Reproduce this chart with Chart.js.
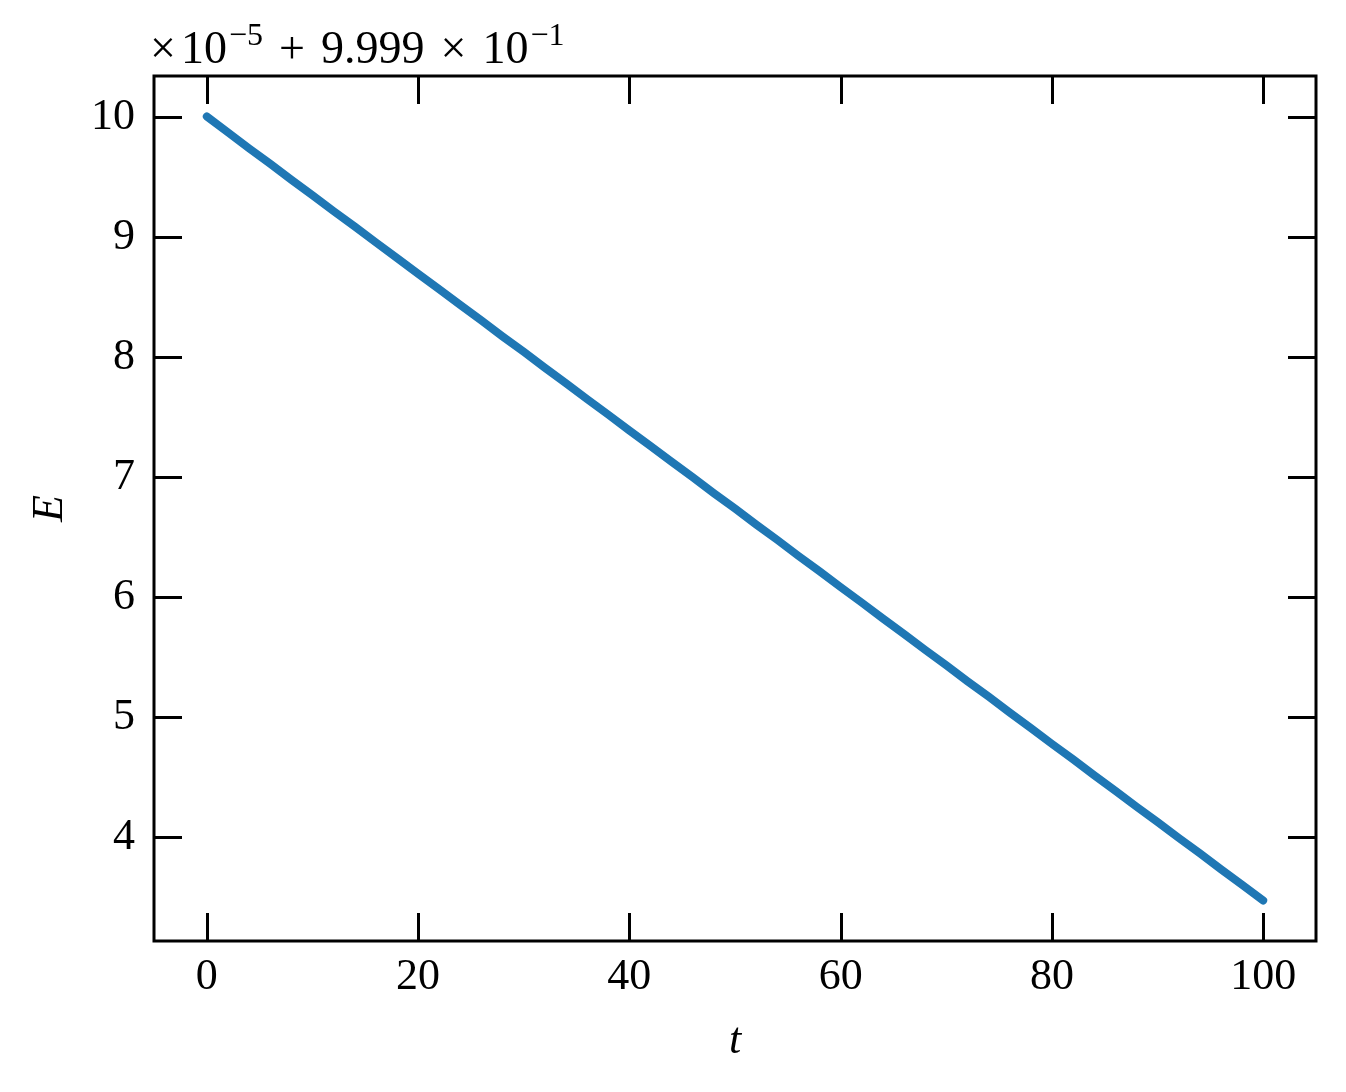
<!DOCTYPE html>
<html>
<head>
<meta charset="utf-8">
<script src="https://cdn.jsdelivr.net/npm/chart.js@4.4.1/dist/chart.umd.min.js"></script>
<style>
  html, body { margin: 0; padding: 0; background: #fff; }
  #wrap { position: relative; width: 1346px; height: 1092px; }
  #offset { position: absolute; left: 150px; top: 25px; font-family: "Liberation Serif", serif; font-size: 46px; color: #000; white-space: nowrap; line-height: 1; }
  #offset sup { font-size: 32px; vertical-align: 0; position: relative; top: -18px; margin-left: 2px; }
  #offset .op { margin: 0 16px; }
  #offset .lead { margin-right: 5px; }
</style>
</head>
<body>
<div id="wrap">
  <canvas id="c" width="1346" height="1092"></canvas>
  <div id="offset"><span class="lead">×</span>10<sup>−5</sup><span class="op">+</span>9.999<span class="op">×</span>10<sup>−1</sup></div>
</div>
<script>
// Data (E shown as (E - 0.9999) / 1e-5)
const tValues = [0, 2, 4, 6, 8, 10, 12, 14, 16, 18, 20, 22, 24, 26, 28, 30, 32, 34, 36, 38, 40,
  42, 44, 46, 48, 50, 52, 54, 56, 58, 60, 62, 64, 66, 68, 70, 72, 74, 76, 78, 80,
  82, 84, 86, 88, 90, 92, 94, 96, 98, 100];
const eValues = [10.005, 9.872, 9.739, 9.610, 9.477, 9.349, 9.216, 9.088, 8.955, 8.826, 8.694,
  8.565, 8.433, 8.304, 8.171, 8.043, 7.910, 7.782, 7.649, 7.520, 7.388,
  7.259, 7.127, 6.998, 6.865, 6.737, 6.604, 6.476, 6.343, 6.214, 6.082,
  5.953, 5.821, 5.692, 5.559, 5.431, 5.298, 5.170, 5.037, 4.908, 4.776,
  4.647, 4.515, 4.386, 4.253, 4.125, 3.992, 3.864, 3.731, 3.602, 3.470];
const xTickValues = [0, 20, 40, 60, 80, 100];
const yTickValues = [4, 5, 6, 7, 8, 9, 10];
const xRange = [-5, 105];
const yRange = [3.133, 10.342];

const points = tValues.map((t, i) => ({ x: t, y: eValues[i] }));

const frameTicks = {
  id: 'frameTicks',
  afterDatasetsDraw(chart) {
    const { ctx, chartArea: a, scales: { x, y } } = chart;
    const len = 28;
    ctx.save();
    ctx.strokeStyle = '#000';
    ctx.lineWidth = 3;
    ctx.lineCap = 'butt';
    ctx.beginPath();
    xTickValues.forEach(v => {
      const px = Math.round(x.getPixelForValue(v)) + 0.5;
      ctx.moveTo(px, a.bottom); ctx.lineTo(px, a.bottom - len);
      ctx.moveTo(px, a.top); ctx.lineTo(px, a.top + len);
    });
    yTickValues.forEach(v => {
      const py = Math.round(y.getPixelForValue(v)) + 0.5;
      ctx.moveTo(a.left, py); ctx.lineTo(a.left + len, py);
      ctx.moveTo(a.right, py); ctx.lineTo(a.right - len, py);
    });
    ctx.stroke();
    ctx.strokeRect(a.left, a.top, a.right - a.left, a.bottom - a.top);
    ctx.restore();
  }
};

const tickFont = { family: '"Liberation Serif", serif', size: 44 };

new Chart(document.getElementById('c'), {
  type: 'line',
  data: {
    datasets: [{
      data: points,
      borderColor: '#1f77b4',
      borderWidth: 8,
      pointRadius: 0,
      tension: 0,
      fill: false,
      borderCapStyle: 'round',
      borderJoinStyle: 'round'
    }]
  },
  options: {
    responsive: false,
    devicePixelRatio: 1,
    animation: false,
    events: [],
    layout: { padding: { top: 76, right: 30, left: 0, bottom: 0 } },
    plugins: { legend: { display: false }, tooltip: { enabled: false } },
    scales: {
      x: {
        type: 'linear',
        min: xRange[0], max: xRange[1],
        afterBuildTicks: s => { s.ticks = xTickValues.map(v => ({ value: v })); },
        afterFit: s => { s.height = 151; },
        grid: { display: false, drawTicks: false },
        border: { display: false },
        ticks: { font: tickFont, color: '#000', padding: 10, maxRotation: 0, callback: v => String(v) },
        title: { display: true, text: 't', color: '#000', font: { family: '"Liberation Serif", serif', size: 44, style: 'italic' }, padding: { top: 0, bottom: 24 } }
      },
      y: {
        type: 'linear',
        min: yRange[0], max: yRange[1],
        afterBuildTicks: s => { s.ticks = yTickValues.map(v => ({ value: v })); },
        afterFit: s => { s.width = 154; },
        grid: { display: false, drawTicks: false },
        border: { display: false },
        ticks: { font: tickFont, color: '#000', padding: 19, callback: v => String(v) },
        title: { display: true, text: 'E', color: '#000', font: { family: '"Liberation Serif", serif', size: 44, style: 'italic' }, padding: { top: 24, bottom: 0 } }
      }
    }
  },
  plugins: [frameTicks]
});
</script>
</body>
</html>
